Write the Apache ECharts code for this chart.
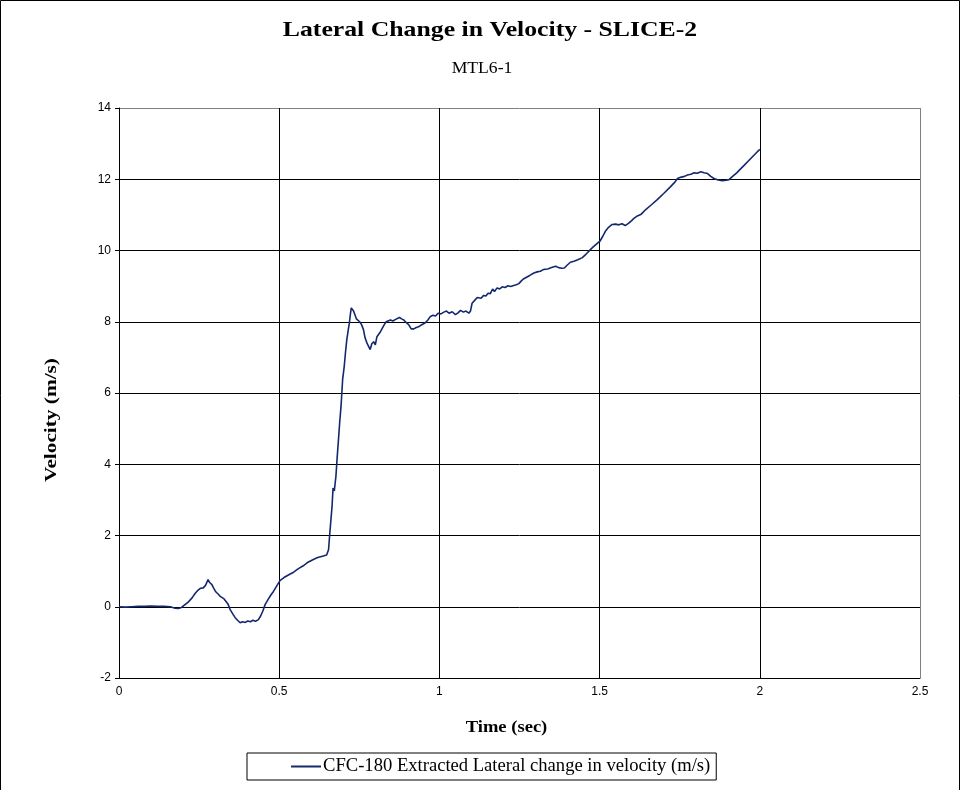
<!DOCTYPE html>
<html>
<head>
<meta charset="utf-8">
<script src="https://cdn.jsdelivr.net/npm/echarts@6/dist/echarts.min.js"></script>
<style>
  html, body { margin: 0; padding: 0; background: #fff; }
  #chart { width: 961px; height: 790px; }
</style>
</head>
<body>
<div id="chart"></div>
<script>
// Lateral change in velocity, SLICE-2 test MTL6-1 (CFC-180 filtered)
const titleText = 'Lateral Change in Velocity - SLICE-2';
const subtitleText = 'MTL6-1';
const seriesName = 'CFC-180 Extracted Lateral change in velocity (m/s)';
const xAxisName = 'Time (sec)';
const yAxisName = 'Velocity (m/s)';

const timeSec = [
  0.000, 0.020, 0.040, 0.060, 0.080, 0.100, 0.120, 0.140, 0.160, 0.175,
  0.185, 0.195, 0.205, 0.215, 0.228, 0.238, 0.245, 0.255, 0.263, 0.270,
  0.278, 0.283, 0.290, 0.295, 0.302, 0.310, 0.316, 0.322, 0.328, 0.333,
  0.340, 0.347, 0.355, 0.362, 0.370, 0.378, 0.386, 0.394, 0.402, 0.410,
  0.418, 0.426, 0.435, 0.442, 0.449, 0.456, 0.465, 0.474, 0.482, 0.492,
  0.503, 0.515, 0.530, 0.545, 0.560, 0.575, 0.590, 0.605, 0.620, 0.635,
  0.648, 0.654, 0.658, 0.662, 0.665, 0.668, 0.672, 0.677, 0.681, 0.685,
  0.689, 0.693, 0.698, 0.703, 0.707, 0.711, 0.716, 0.719, 0.722, 0.725,
  0.729, 0.732, 0.737, 0.741, 0.746, 0.751, 0.757, 0.763, 0.768, 0.774,
  0.779, 0.784, 0.789, 0.795, 0.800, 0.805, 0.810, 0.816, 0.822, 0.828,
  0.834, 0.840, 0.847, 0.855, 0.862, 0.868, 0.875, 0.882, 0.889, 0.896,
  0.904, 0.912, 0.920, 0.928, 0.935, 0.942, 0.948, 0.956, 0.964, 0.972,
  0.980, 0.988, 0.996, 1.005, 1.014, 1.022, 1.030, 1.040, 1.050, 1.058,
  1.066, 1.075, 1.083, 1.092, 1.097, 1.102, 1.110, 1.118, 1.123, 1.130,
  1.138, 1.145, 1.152, 1.159, 1.166, 1.172, 1.180, 1.188, 1.196, 1.205,
  1.214, 1.222, 1.232, 1.240, 1.248, 1.255, 1.262, 1.272, 1.282, 1.295,
  1.305, 1.315, 1.326, 1.338, 1.350, 1.363, 1.372, 1.382, 1.390, 1.400,
  1.409, 1.420, 1.432, 1.446, 1.458, 1.472, 1.480, 1.490, 1.501, 1.510,
  1.518, 1.528, 1.539, 1.550, 1.560, 1.570, 1.580, 1.590, 1.600, 1.607,
  1.618, 1.630, 1.644, 1.660, 1.680, 1.700, 1.720, 1.735, 1.743, 1.755,
  1.765, 1.774, 1.785, 1.795, 1.805, 1.816, 1.826, 1.837, 1.847, 1.857,
  1.870, 1.883, 1.895, 1.904, 1.915, 1.928, 1.940, 1.951, 1.965, 1.978,
  1.990, 2.000
];

const velocity = [
  0.00, -0.01, 0.00, 0.01, 0.01, 0.02, 0.01, 0.01, 0.00, -0.04,
  -0.05, -0.02, 0.05, 0.12, 0.25, 0.38, 0.45, 0.52, 0.53, 0.60,
  0.76, 0.68, 0.62, 0.53, 0.42, 0.35, 0.29, 0.33, 0.22, 0.25,
  0.08, -0.08, -0.20, -0.30, -0.38, -0.45, -0.42, -0.44, -0.40, -0.42,
  -0.38, -0.41, -0.36, -0.26, -0.12, 0.06, 0.20, 0.33, 0.43, 0.58,
  0.74, 0.82, 0.90, 0.97, 1.07, 1.15, 1.25, 1.32, 1.38, 1.42,
  1.45, 1.60, 2.07, 2.50, 2.82, 3.33, 3.25, 3.66, 4.20, 4.69,
  5.20, 5.63, 6.38, 6.75, 7.15, 7.50, 7.80, 7.96, 8.20, 8.39,
  8.40, 8.30, 8.18, 8.08, 8.12, 8.00, 7.92, 7.78, 7.55, 7.40,
  7.35, 7.22, 7.38, 7.44, 7.35, 7.58, 7.60, 7.72, 7.75, 7.92,
  8.00, 7.98, 8.05, 8.02, 8.06, 8.02, 8.12, 8.08, 8.05, 7.98,
  7.92, 7.80, 7.80, 7.84, 7.86, 7.90, 7.86, 7.97, 8.05, 8.15,
  8.18, 8.16, 8.24, 8.22, 8.27, 8.30, 8.24, 8.28, 8.20, 8.25,
  8.32, 8.27, 8.30, 8.24, 8.30, 8.52, 8.60, 8.68, 8.70, 8.66,
  8.74, 8.72, 8.80, 8.79, 8.92, 8.85, 8.95, 8.92, 8.98, 8.96,
  9.01, 8.99, 9.02, 9.04, 9.07, 9.14, 9.20, 9.25, 9.30, 9.37,
  9.40, 9.42, 9.47, 9.48, 9.52, 9.56, 9.52, 9.50, 9.51, 9.60,
  9.67, 9.70, 9.74, 9.80, 9.90, 10.03, 10.10, 10.18, 10.26, 10.40,
  10.54, 10.65, 10.73, 10.74, 10.72, 10.75, 10.70, 10.76, 10.84, 10.90,
  10.97, 11.02, 11.15, 11.27, 11.43, 11.60, 11.78, 11.92, 12.02, 12.06,
  12.08, 12.12, 12.14, 12.18, 12.17, 12.21, 12.18, 12.16, 12.08, 12.02,
  11.98, 11.96, 11.97, 11.99, 12.08, 12.18, 12.29, 12.39, 12.52, 12.64,
  12.75, 12.84
];

// Axis ranges and tick steps
const xRange = { min: 0, max: 2.5, step: 0.5 };
const yRange = { min: -2, max: 14, step: 2 };

const points = timeSec.map((t, i) => [t, velocity[i]]);

const lineColor = '#14286e';
const serif = '"Liberation Serif", "Times New Roman", serif';
const sans = '"Liberation Sans", Arial, sans-serif';

// gridline colours: black inside, grey on the far edges of the plot
const ySplitColors = [];
for (let v = yRange.min; v <= yRange.max + 1e-9; v += yRange.step) {
  ySplitColors.push(Math.abs(v - yRange.max) < 1e-9 ? '#808080' : '#000000');
}
const xSplitColors = [];
for (let v = xRange.min; v <= xRange.max + 1e-9; v += xRange.step) {
  xSplitColors.push(Math.abs(v - xRange.max) < 1e-9 ? '#808080' : '#000000');
}

const chart = echarts.init(document.getElementById('chart'), null, { renderer: 'canvas' });

chart.setOption({
  backgroundColor: '#ffffff',
  animation: false,
  grid: { left: 119, right: 41, top: 108, bottom: 112, containLabel: false },
  xAxis: {
    type: 'value',
    min: xRange.min, max: xRange.max, interval: xRange.step,
    axisLine: { show: true, onZero: false, lineStyle: { color: '#000', width: 1 } },
    axisTick: { show: false },
    axisLabel: {
      fontFamily: sans, fontSize: 12, color: '#000', margin: 8,
      formatter: v => String(v)
    },
    splitLine: { show: true, lineStyle: { color: xSplitColors, width: 1 } }
  },
  yAxis: {
    type: 'value',
    min: yRange.min, max: yRange.max, interval: yRange.step,
    axisLine: { show: true, onZero: false, lineStyle: { color: '#000', width: 1 } },
    axisTick: { show: true, inside: false, length: 4, lineStyle: { color: '#000' } },
    axisLabel: { fontFamily: sans, fontSize: 12, color: '#000', margin: 8 },
    splitLine: { show: true, lineStyle: { color: ySplitColors, width: 1 } }
  },
  legend: {
    show: true,
    left: 247, top: 753,
    padding: [4, 6, 4, 44],
    borderColor: '#000', borderWidth: 1,
    backgroundColor: '#fff',
    itemWidth: 30, itemHeight: 2, itemGap: 0,
    icon: 'rect',
    textStyle: { fontFamily: serif, fontSize: 18.6, color: '#000', padding: [0, 0, 0, -3] },
    data: [{ name: seriesName }]
  },
  graphic: [
    // outer frame
    { type: 'polyline', silent: true, shape: { points: [[0.5, 800], [0.5, 0.5], [959.5, 0.5], [959.5, 800]] },
      style: { stroke: '#000', lineWidth: 1, fill: null } },
    // chart title and subtitle (wide-set lettering)
    { type: 'text', silent: true, x: 490, y: 19, scaleX: 1.17,
      style: { text: titleText, font: 'bold 22px ' + serif, fill: '#000', textAlign: 'center', textVerticalAlign: 'top' } },
    { type: 'text', silent: true, x: 482, y: 61, scaleX: 1.1,
      style: { text: subtitleText, font: '16px ' + serif, fill: '#000', textAlign: 'center', textVerticalAlign: 'top' } },
    // axis titles
    { type: 'text', silent: true, x: 506.5, y: 720, scaleX: 1.16,
      style: { text: xAxisName, font: 'bold 16px ' + serif, fill: '#000', textAlign: 'center', textVerticalAlign: 'top' } },
    { type: 'text', silent: true, x: 44, y: 482, rotation: Math.PI / 2, scaleX: 1.33,
      style: { text: yAxisName, font: 'bold 16px ' + serif, fill: '#000', textAlign: 'left', textVerticalAlign: 'top' } }
  ],
  series: [
    {
      name: seriesName,
      type: 'line',
      data: points,
      showSymbol: false,
      symbol: 'none',
      lineStyle: { color: lineColor, width: 1.6 },
      itemStyle: { color: lineColor }
    }
  ]
});
</script>
</body>
</html>
